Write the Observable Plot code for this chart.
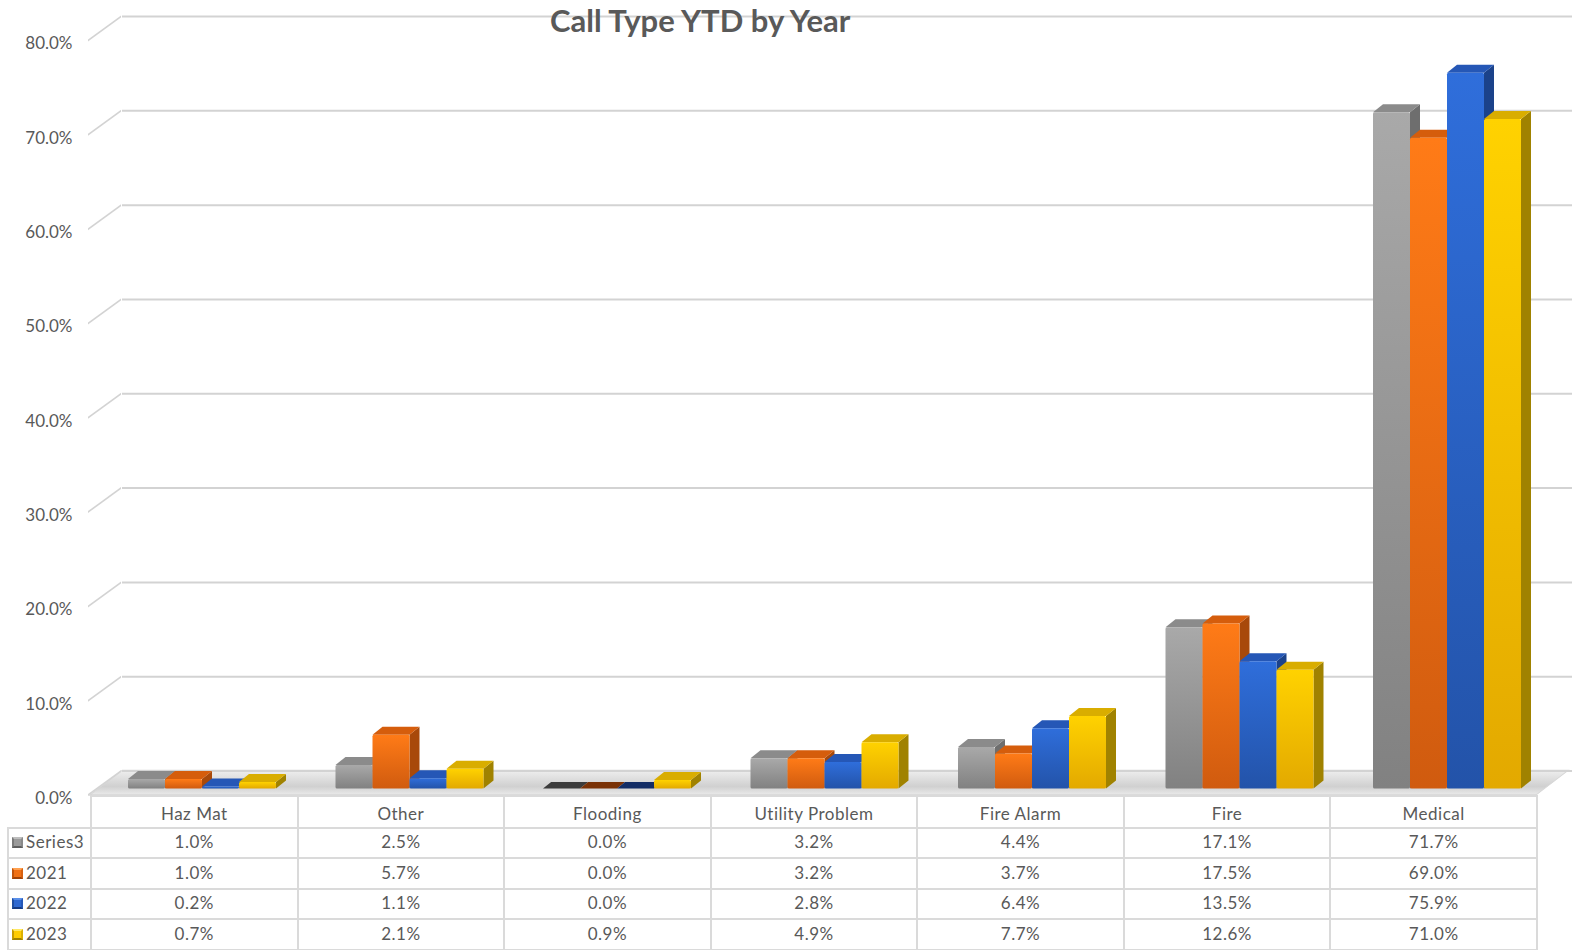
<!DOCTYPE html>
<html>
<head>
<meta charset="utf-8">
<script src="https://cdn.jsdelivr.net/npm/d3@7"></script>
<script src="https://cdn.jsdelivr.net/npm/@observablehq/plot@0.6"></script>
<style>
  html, body { margin: 0; padding: 0; background: #fff; }
  #wrap { position: relative; width: 1572px; height: 950px; overflow: hidden;
          font-family: Lato, "Open Sans", sans-serif; color: #595959; }
  #chart { position: absolute; left: 0; top: 0; }
  #title { position: absolute; left: 550px; top: 0px; font-size: 31px; font-weight: 700;
           line-height: 40px; color: #595959; white-space: nowrap; }
  #table { position: absolute; left: 7px; top: 795px; border-collapse: collapse;
           table-layout: fixed; font-size: 17px; color: #595959; }
  #table td { border: 2px solid #dadada; text-align: center; padding: 0; letter-spacing: 0.5px;
              white-space: nowrap; overflow: hidden; }
  #table tr.head td { height: 25.5px; padding-top: 4px; }
  #table tr.row td { height: 26.6px; padding-bottom: 2px; }
  #table td.corner { border-top: none; border-left: none; }
  #table td.label { text-align: left; padding-left: 3px; }
  .key { display: inline-block; width: 7px; height: 7px; border: 2.5px solid; margin-right: 3px;
         vertical-align: 0px; }
</style>
</head>
<body>
<svg width="0" height="0" style="position:absolute">
  <defs>
    <linearGradient id="front0" x1="0" y1="0" x2="0" y2="1">
      <stop offset="0" stop-color="#a9a9a9"/><stop offset="1" stop-color="#818181"/>
    </linearGradient>
    <linearGradient id="front1" x1="0" y1="0" x2="0" y2="1">
      <stop offset="0" stop-color="#ff7b17"/><stop offset="1" stop-color="#d05b0f"/>
    </linearGradient>
    <linearGradient id="front2" x1="0" y1="0" x2="0" y2="1">
      <stop offset="0" stop-color="#2f6edb"/><stop offset="1" stop-color="#2353a9"/>
    </linearGradient>
    <linearGradient id="front3" x1="0" y1="0" x2="0" y2="1">
      <stop offset="0" stop-color="#ffd200"/><stop offset="1" stop-color="#e3a900"/>
    </linearGradient>
    <linearGradient id="floorFill" x1="0" y1="0" x2="0" y2="1">
      <stop offset="0" stop-color="#eeeeee"/><stop offset="0.65" stop-color="#d0d0d0"/>
      <stop offset="1" stop-color="#eaeaea"/>
    </linearGradient>
  </defs>
</svg>
<div id="wrap">
  <div id="chart"></div>
  <div id="title">Call Type YTD by Year</div>
  <table id="table"></table>
</div>
<script>
// Share of calls by type, year to date (percent)
const categories = ["Haz Mat", "Other", "Flooding", "Utility Problem", "Fire Alarm", "Fire", "Medical"];
const seriesNames = ["Series3", "2021", "2022", "2023"];
const series3 = [1.0, 2.5, 0.0, 3.2, 4.4, 17.1, 71.7];
const y2021   = [1.0, 5.7, 0.0, 3.2, 3.7, 17.5, 69.0];
const y2022   = [0.2, 1.1, 0.0, 2.8, 6.4, 13.5, 75.9];
const y2023   = [0.7, 2.1, 0.9, 4.9, 7.7, 12.6, 71.0];
const yTicks  = [0, 10, 20, 30, 40, 50, 60, 70, 80];

const seriesValues = [series3, y2021, y2022, y2023];
const frontFill = ["url(#front0)", "url(#front1)", "url(#front2)", "url(#front3)"];
const topFill   = ["#8b8b8b", "#d55d0c", "#2557b6", "#d9ad00"];
const sideFill  = ["#6e6e6e", "#a8490a", "#1b428a", "#a08200"];
const baseFill  = ["#3c3c3c", "#7a3206", "#132d66", "#8a6e00"];
const keyColors = [
  ["#bdbdbd", "#8a8a8a", "#5e5e5e", "#7a7a7a", "#9a9a9a"],
  ["#ffa050", "#d8600e", "#9e4208", "#c0540c", "#f07014"],
  ["#5a8fe8", "#2658b8", "#163a80", "#1f4ea0", "#2e68d0"],
  ["#ffe866", "#dcb000", "#a08200", "#c89c00", "#ffcc00"]
];

const rows = categories.flatMap((category, i) =>
  seriesNames.map((series, k) => ({category, series, k, value: seriesValues[k][i]}))
);

// Geometry of the oblique 3-D view
const W = 1572, H = 796;
const ML = 88, MR = 31.5, MT = 34, MB = 7.5;
const bandW = (W - ML - MR) / categories.length;
const barOff = 40, barW = 37, depthX = 10, depthY = 8;
const wallDy = -18;            // back wall offset from the bar plane
const labelDy = 9.5;           // front axis labels offset

const deg = (r) => r * 180 / Math.PI;
const css = document.createElement("style");
css.textContent = `
  g[aria-description="bar-side"] rect { transform-box: fill-box; transform-origin: 0 100%;
    transform: skewY(${-deg(Math.atan(depthY / depthX))}deg); }
  g[aria-description="bar-top"] rect, g[aria-description="bar-base"] rect { transform-box: fill-box;
    transform-origin: 0 100%; transform: skewX(${-deg(Math.atan(depthX / depthY))}deg); }
  rect[aria-description="floor"], g[aria-description="floor"] rect { transform-box: fill-box;
    transform-origin: 0 100%; transform: skewX(${-deg(Math.atan(32 / 24.5))}deg); }
  g[aria-description="grid-diag"] line { transform-box: fill-box; transform-origin: 0 0;
    transform: skewY(${-deg(Math.atan(24 / 33))}deg); }
`;
document.head.appendChild(css);

const barMarks = seriesNames.flatMap((s, k) => {
  const data = rows.filter(d => d.k === k);
  const left = barOff + barW * k;
  const right = bandW - (barOff + barW * (k + 1));
  return [
    Plot.barY(data, {x: "category", y1: 0, y2: "value", fill: sideFill[k], ariaDescription: "bar-side",
      insetLeft: barOff + barW * (k + 1), insetRight: right - depthX}),
    Plot.barY(data.filter(d => d.value > 0), {x: "category", y1: "value", y2: "value", fill: topFill[k],
      ariaDescription: "bar-top", insetLeft: left, insetRight: right, insetTop: -depthY, insetBottom: 0}),
    Plot.barY(data.filter(d => d.value === 0), {x: "category", y1: "value", y2: "value", fill: baseFill[k],
      ariaDescription: "bar-base", insetLeft: left, insetRight: right, insetTop: -depthY + 1.5, insetBottom: 0}),
    Plot.barY(data, {x: "category", y1: 0, y2: "value", fill: frontFill[k], ariaDescription: "bar-front",
      insetLeft: left, insetRight: right, rx: 1.5})
  ];
});

const chart = Plot.plot({
  width: W,
  height: H,
  marginLeft: ML,
  marginRight: MR,
  marginTop: MT,
  marginBottom: MB,
  style: {fontFamily: "Lato, 'Open Sans', sans-serif", fontSize: "17px", color: "#595959", overflow: "visible"},
  x: {domain: categories, padding: 0, round: false, axis: null},
  y: {domain: [0, 80], axis: null},
  marks: [
    Plot.frame({ariaDescription: "floor", fill: "url(#floorFill)", stroke: "#d6d6d6", strokeWidth: 1.5,
      insetLeft: 2, insetRight: 4.5, insetTop: (H - MB - MT) + wallDy, insetBottom: -6.5}),
    Plot.ruleY(yTicks, {ariaDescription: "grid-back", stroke: "#d3d3d3", strokeWidth: 2, dy: wallDy,
      insetLeft: 34, insetRight: -MR}),
    Plot.ruleY(yTicks, {ariaDescription: "grid-diag", stroke: "#d3d3d3", strokeWidth: 2, dy: 6,
      insetLeft: 0, insetRight: (W - MR) - (ML + 33)}),
    Plot.text(yTicks, {y: d => d, text: d => d.toFixed(1) + "%", frameAnchor: "left", textAnchor: "end",
      dx: -16, dy: labelDy, fill: "#595959", fontSize: 17}),
    ...barMarks
  ]
});
document.getElementById("chart").appendChild(chart);

// Data table under the plot
const table = document.getElementById("table");
const colLabel = 83;
let html = `<colgroup><col style="width:${colLabel}px">` +
  categories.map(() => `<col style="width:${(1536 - 90) / categories.length}px">`).join("") + `</colgroup>`;
html += `<tr class="head"><td class="corner"></td>` + categories.map(c => `<td>${c}</td>`).join("") + `</tr>`;
seriesNames.forEach((s, k) => {
  const [t, r, b, l, f] = keyColors[k];
  const key = `<span class="key" style="border-color:${t} ${r} ${b} ${l};background:${f}"></span>`;
  html += `<tr class="row"><td class="label">${key}${s}</td>` +
    seriesValues[k].map(v => `<td>${v.toFixed(1)}%</td>`).join("") + `</tr>`;
});
table.innerHTML = html;
table.style.width = (colLabel + (1536 - 90)) + "px";
</script>
</body>
</html>
